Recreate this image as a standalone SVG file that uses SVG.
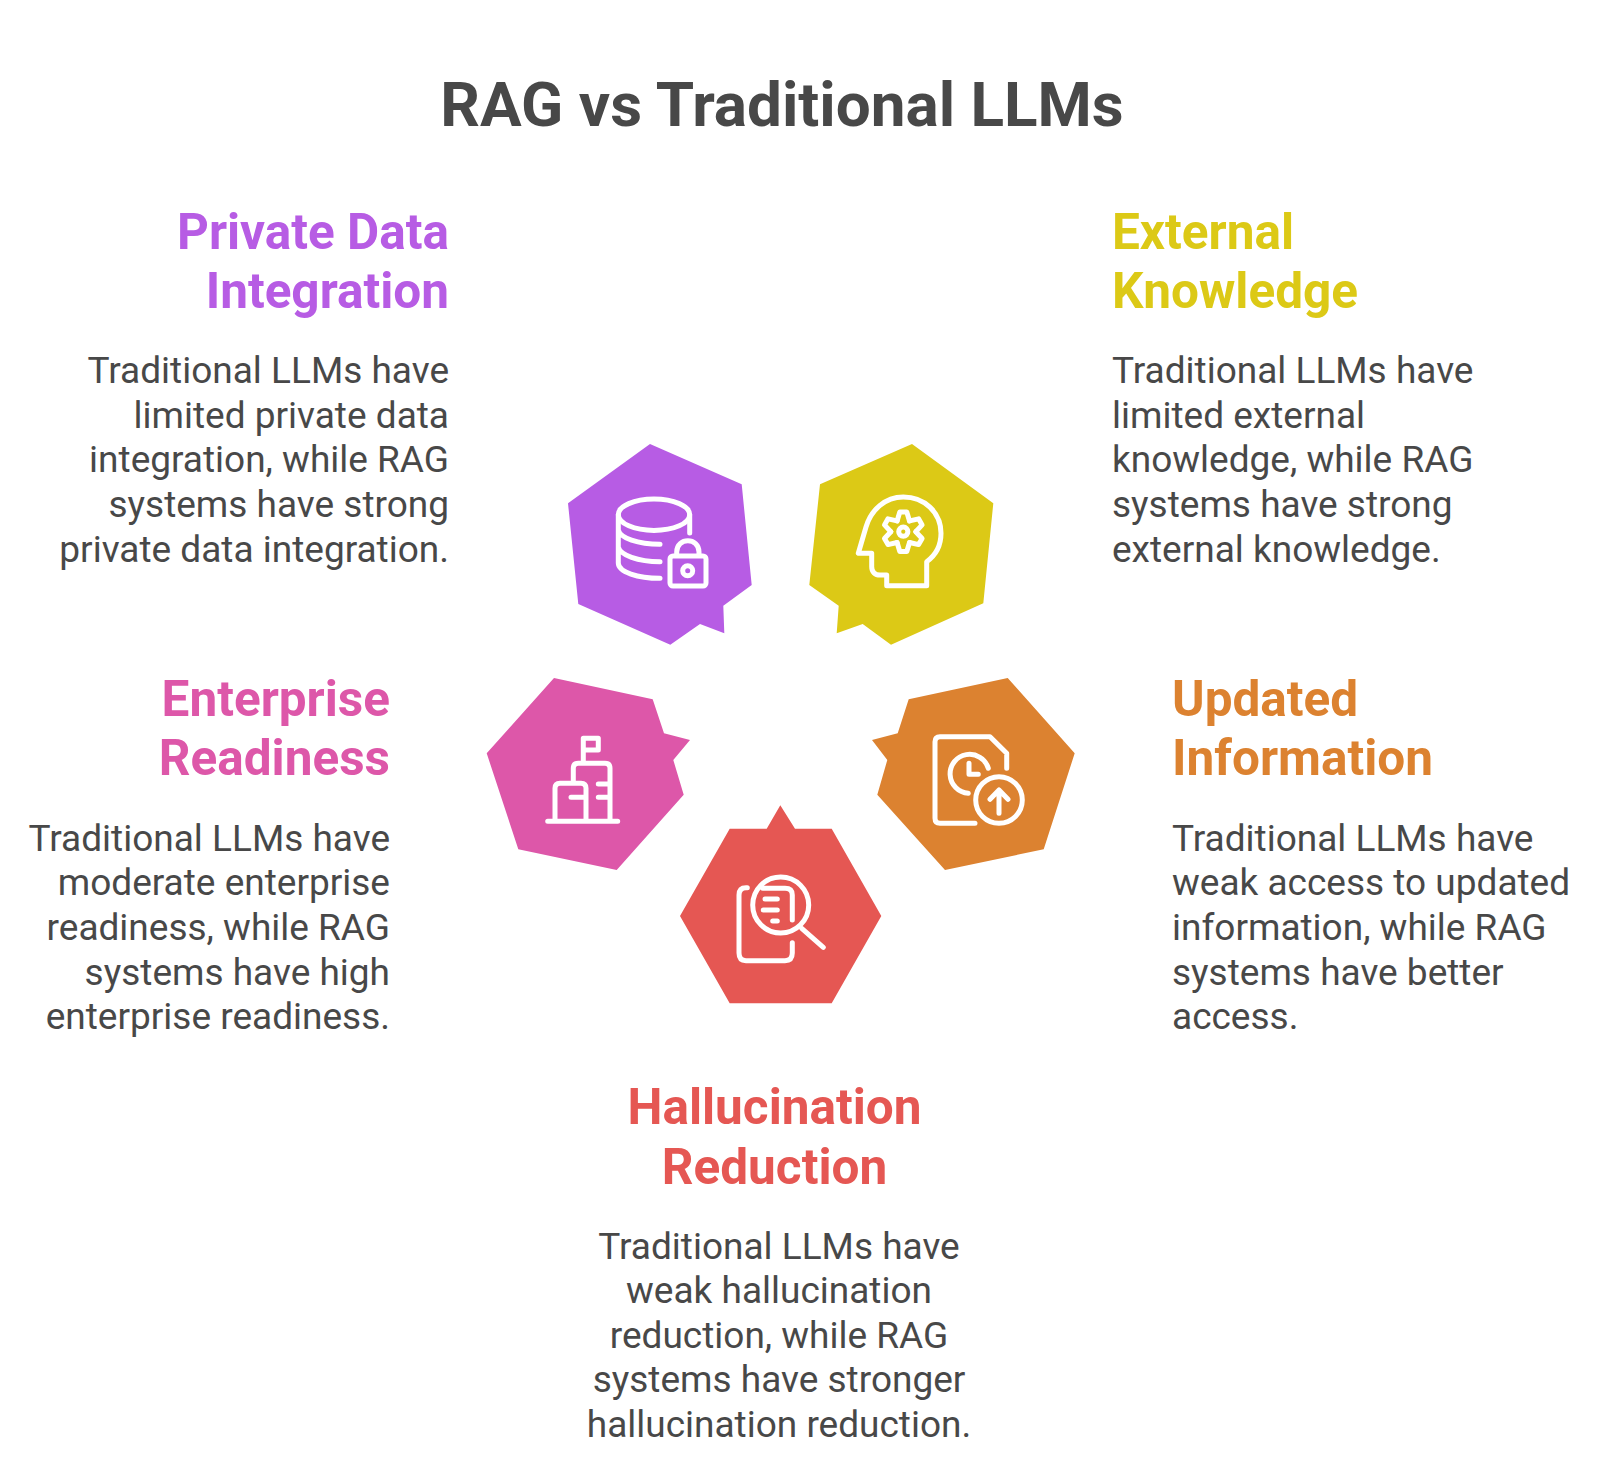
<svg xmlns="http://www.w3.org/2000/svg" width="1600" height="1476" viewBox="0 0 1600 1476">
<style>
text{font-family:Roboto,"Liberation Sans",sans-serif}
.title{font-size:62px;font-weight:700;fill:#484848}
.h{font-size:49.5px;font-weight:700}
.b{font-size:37px;font-weight:400;fill:#484848}
.r{text-anchor:end}
.m{text-anchor:middle}
.i{fill:none;stroke:#fff;stroke-width:5;stroke-linecap:round;stroke-linejoin:round}
</style>
<defs><path id="tooth" d="M-6.2-10.8L-3.5-19.7H3.5L6.2-10.8"/></defs>
<rect width="1600" height="1476" fill="#fff"/>
<text class="title m" x="782" y="126">RAG vs Traditional LLMs</text>

<g id="node-private-data">
<polygon fill="#B75CE4" points="650,444 741.7,484.3 751.7,585 723.3,605.7 724.3,633.3 700,624 670.3,644.7 578.3,604 568,503.3"/>
<g class="i"><ellipse cx="654" cy="514.7" rx="35.7" ry="15.7"/><path d="M618.3 515V563C618.3 572 638 578.3 660 578.3M618.3 530C620 538 638 544.3 660 544.3M618.3 547C620 555 638 561.7 660 561.7M689.7 515V533"/><rect x="670" y="556" width="36" height="30" rx="3"/><path d="M676.7 555V552C676.7 537 699 537 699 552V555"/><circle cx="687.7" cy="570.7" r="5"/></g>
<text class="h r" fill="#B75CE4" x="449" y="248.500">Private Data</text><text class="h r" fill="#B75CE4" x="449" y="307.500">Integration</text>
<g class="b r"><text x="449" y="382.700">Traditional LLMs have</text><text x="449" y="427.500">limited private data</text><text x="449" y="472.300">integration, while RAG</text><text x="449" y="517">systems have strong</text><text x="449" y="561.500">private data integration.</text></g>
</g>

<g id="node-external-knowledge">
<polygon fill="#DCC916" points="912,444 993.3,503.3 983.3,603.3 891,644.7 862.7,624 836.7,633.3 838.7,605.7 809.3,585 820,484.3"/>
<g class="i"><path d="M886.7 575V585.7H926.7V561.7C936 555 941 545 941 533.3C941 512 924 497 903.3 497C885 497 871 510 866 527L858.3 553.3H871.7V566.7C871.7 572 875 575 880 575Z"/>
<g transform="translate(903.3 531.7)"><use href="#tooth"/><use href="#tooth" transform="rotate(60)"/><use href="#tooth" transform="rotate(120)"/><use href="#tooth" transform="rotate(180)"/><use href="#tooth" transform="rotate(240)"/><use href="#tooth" transform="rotate(300)"/><circle r="4.600"/></g></g>
<text class="h" fill="#DCC916" x="1112" y="248.500">External</text><text class="h" fill="#DCC916" x="1112" y="307.500">Knowledge</text>
<g class="b"><text x="1112" y="382.700">Traditional LLMs have</text><text x="1112" y="427.500">limited external</text><text x="1112" y="472.300">knowledge, while RAG</text><text x="1112" y="517">systems have strong</text><text x="1112" y="561.500">external knowledge.</text></g>
</g>

<g id="node-enterprise-readiness">
<polygon fill="#DD57A9" points="554,678 652.7,699.3 664,733.3 690,740 673.3,760 683.7,794.7 616.7,870 518.3,849.3 486.7,753.3"/>
<g class="i"><path d="M547.7 821.3H617.7M555 821.3V788.3Q555 783.3 560 783.3H581Q586 783.3 586 788.3V821.3M573.3 783.3V768.3Q573.3 763.3 578.3 763.3H605Q610 763.3 610 768.3V821.3M583.3 763.3V738.3H598.3V750H583.3M571 797.3H586M598.3 784H610M598.3 797.3H610"/></g>
<text class="h r" fill="#DD57A9" x="390" y="716">Enterprise</text><text class="h r" fill="#DD57A9" x="390" y="775">Readiness</text>
<g class="b r"><text x="390" y="850.500">Traditional LLMs have</text><text x="390" y="895.300">moderate enterprise</text><text x="390" y="940">readiness, while RAG</text><text x="390" y="984.500">systems have high</text><text x="390" y="1029">enterprise readiness.</text></g>
</g>

<g id="node-updated-information">
<polygon fill="#DC8230" points="1007.7,678 1074.7,753.3 1043.7,849.3 945,870 877.3,794.7 887.3,760 872,740 897.700,733.3 908.7,699.3"/>
<g class="i"><path d="M975 823.3H940Q935 823.3 935 818.3V741.700Q935 736.7 940 736.7H990L1006.7 753.3V768.3M988.300 768.300A19.500 19.500 0 1 0 968.300 793.300M969 763.300V774.300H978.300M999 813.300V790M990 799.300L999 790L1008 799.300"/><circle cx="999" cy="800" r="23.300"/></g>
<text class="h" fill="#DC8230" x="1172" y="716">Updated</text><text class="h" fill="#DC8230" x="1172" y="775">Information</text>
<g class="b"><text x="1172" y="850.500">Traditional LLMs have</text><text x="1172" y="895.300">weak access to updated</text><text x="1172" y="940">information, while RAG</text><text x="1172" y="984.500">systems have better</text><text x="1172" y="1029">access.</text></g>
</g>

<g id="node-hallucination-reduction">
<polygon fill="#E55753" points="780.3,805.3 795,828.7 831.7,828.7 881.3,916 831.7,1003.3 729.7,1003.3 680,916 729.7,828.7 766.7,828.7"/>
<g class="i"><circle cx="780.700" cy="905" r="28"/><path d="M801.700 928.300L823.300 947.300M747.300 887.700H746Q739 887.700 739 895V953Q739 960.700 746 960.700H785Q792.300 960.700 792.300 953V942.700M762.700 888.300H785Q792.300 888.300 792.300 895V920M765 899H777.300M763.300 910H777.300M772.700 921H777.300"/></g>
<text class="h m" fill="#E55753" x="774.500" y="1124">Hallucination</text><text class="h m" fill="#E55753" x="774.500" y="1183.500">Reduction</text>
<g class="b m"><text x="779" y="1258.800">Traditional LLMs have</text><text x="779" y="1303.300">weak hallucination</text><text x="779" y="1347.800">reduction, while RAG</text><text x="779" y="1392.300">systems have stronger</text><text x="779" y="1437">hallucination reduction.</text></g>
</g>
</svg>
